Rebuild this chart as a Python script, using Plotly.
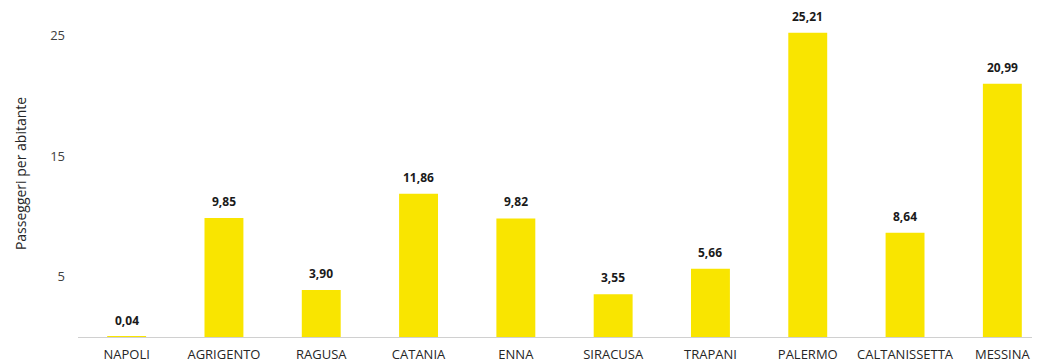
import plotly.graph_objects as go

province = ["NAPOLI", "AGRIGENTO", "RAGUSA", "CATANIA", "ENNA",
            "SIRACUSA", "TRAPANI", "PALERMO", "CALTANISSETTA", "MESSINA"]
passeggeri = [0.04, 9.85, 3.90, 11.86, 9.82, 3.55, 5.66, 25.21, 8.64, 20.99]
y_ticks = [5, 15, 25]

FONT = "Open Sans"
YELLOW = "#F9E500"

fig = go.Figure(
    go.Bar(
        x=province,
        y=passeggeri,
        marker=dict(color=YELLOW, line=dict(width=0)),
        width=0.4,
        hoverinfo="skip",
    )
)

# value labels above the bars, comma as decimal separator
for name, val in zip(province, passeggeri):
    fig.add_annotation(
        x=name, y=val, text=f"<b>{val:.2f}</b>".replace(".", ","),
        showarrow=False, yanchor="bottom", yshift=6,
        font=dict(family=FONT, size=12, color="#1a1a1a"),
    )

# page body keeps an 8px margin, so the figure is a bit smaller than the window
fig.update_layout(
    width=1032,
    height=355,
    margin=dict(l=70, r=0, t=2, b=26),
    plot_bgcolor="white",
    paper_bgcolor="white",
    showlegend=False,
    font=dict(family=FONT, size=13, color="#262626"),
)
fig.update_xaxes(
    range=[-0.5, 9.387],
    automargin=False,
    showline=True,
    linecolor="#d0d0d0",
    linewidth=1,
    ticks="",
    tickfont=dict(size=13, color="#262626"),
    ticklabelstandoff=5,
)
fig.update_yaxes(
    range=[0, 27.09],
    automargin=False,
    tickvals=y_ticks,
    showgrid=False,
    zeroline=False,
    tickfont=dict(size=13, color="#404040"),
    ticklabelstandoff=12,
    title=dict(text="Passeggeri per abitante", font=dict(size=14, color="#262626"), standoff=20),
)

fig.write_html("out.html")
